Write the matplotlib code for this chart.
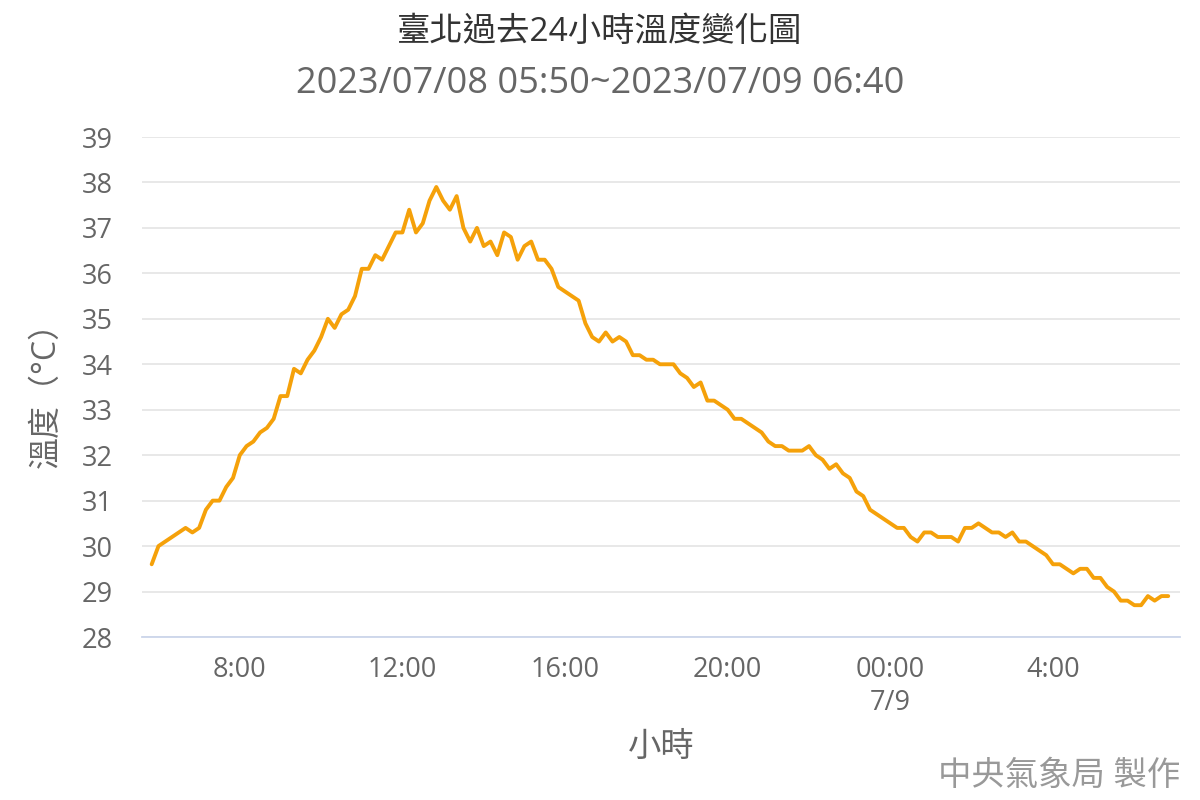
import matplotlib
matplotlib.use("Agg")
import matplotlib.pyplot as plt
import numpy as np

plt.rcParams['font.family'] = ['Open Sans', 'Noto Sans CJK TC', 'DejaVu Sans']

title = "臺北過去24小時溫度變化圖"
subtitle = "2023/07/08 05:50~2023/07/09 06:40"
x_label = "小時"
y_label = "溫度（°C）"
credit = "中央氣象局 製作"

start_minute = 350          # 05:50 on 7/8, minutes after 00:00 7/8
step_minutes = 10
temps = [
    29.6, 30.0, 30.1, 30.2, 30.3, 30.4, 30.3, 30.4, 30.8, 31.0,
    31.0, 31.3, 31.5, 32.0, 32.2, 32.3, 32.5, 32.6, 32.8, 33.3,
    33.3, 33.9, 33.8, 34.1, 34.3, 34.6, 35.0, 34.8, 35.1, 35.2,
    35.5, 36.1, 36.1, 36.4, 36.3, 36.6, 36.9, 36.9, 37.4, 36.9,
    37.1, 37.6, 37.9, 37.6, 37.4, 37.7, 37.0, 36.7, 37.0, 36.6,
    36.7, 36.4, 36.9, 36.8, 36.3, 36.6, 36.7, 36.3, 36.3, 36.1,
    35.7, 35.6, 35.5, 35.4, 34.9, 34.6, 34.5, 34.7, 34.5, 34.6,
    34.5, 34.2, 34.2, 34.1, 34.1, 34.0, 34.0, 34.0, 33.8, 33.7,
    33.5, 33.6, 33.2, 33.2, 33.1, 33.0, 32.8, 32.8, 32.7, 32.6,
    32.5, 32.3, 32.2, 32.2, 32.1, 32.1, 32.1, 32.2, 32.0, 31.9,
    31.7, 31.8, 31.6, 31.5, 31.2, 31.1, 30.8, 30.7, 30.6, 30.5,
    30.4, 30.4, 30.2, 30.1, 30.3, 30.3, 30.2, 30.2, 30.2, 30.1,
    30.4, 30.4, 30.5, 30.4, 30.3, 30.3, 30.2, 30.3, 30.1, 30.1,
    30.0, 29.9, 29.8, 29.6, 29.6, 29.5, 29.4, 29.5, 29.5, 29.3,
    29.3, 29.1, 29.0, 28.8, 28.8, 28.7, 28.7, 28.9, 28.8, 28.9,
    28.9,
]
minutes = [start_minute + step_minutes * i for i in range(len(temps))]

x_tick_minutes = [480, 720, 960, 1200, 1440, 1680]
x_tick_labels = ["8:00", "12:00", "16:00", "20:00", "00:00\n7/9", "4:00"]
y_ticks = list(range(28, 40))

fig = plt.figure(figsize=(12, 8), dpi=100)
ax = fig.add_axes([142/1200, 1 - 637/800, (1180 - 142)/1200, 500/800])

ax.plot(minutes, temps, color="#f5a10a", linewidth=2.8, solid_joinstyle="round",
        solid_capstyle="round", zorder=3)

ax.set_xlim(335.7, 1867.4)
ax.set_ylim(28, 39)
ax.set_yticks(y_ticks)
ax.set_yticklabels([str(v) for v in y_ticks])
ax.set_xticks(x_tick_minutes)
ax.set_xticklabels(x_tick_labels, linespacing=1.2)

ax.grid(axis="y", color="#e6e6e6", linewidth=1.3)
ax.set_axisbelow(True)
for side in ["top", "right", "left"]:
    ax.spines[side].set_visible(False)
ax.spines["bottom"].set_color("#ccd6eb")
ax.spines["bottom"].set_linewidth(1.3)

ax.tick_params(axis="y", length=0, pad=21, labelsize=19.5, labelcolor="#666666")
ax.tick_params(axis="x", length=0, pad=14, labelsize=19.5, labelcolor="#666666")

ax.set_xlabel(x_label, fontsize=24, color="#666666", labelpad=10)
ax.set_ylabel(y_label, fontsize=23, color="#666666", labelpad=14)

fig.text(0.5, 1 - 32/800, title, ha="center", va="center", fontsize=24, color="#333333")
fig.text(0.5, 1 - 84/800, subtitle, ha="center", va="center", fontsize=26, color="#666666")
fig.text(1180/1200, 1 - 776/800, credit, ha="right", va="center", fontsize=24, color="#999999")

fig.savefig("out.png", dpi=100)
